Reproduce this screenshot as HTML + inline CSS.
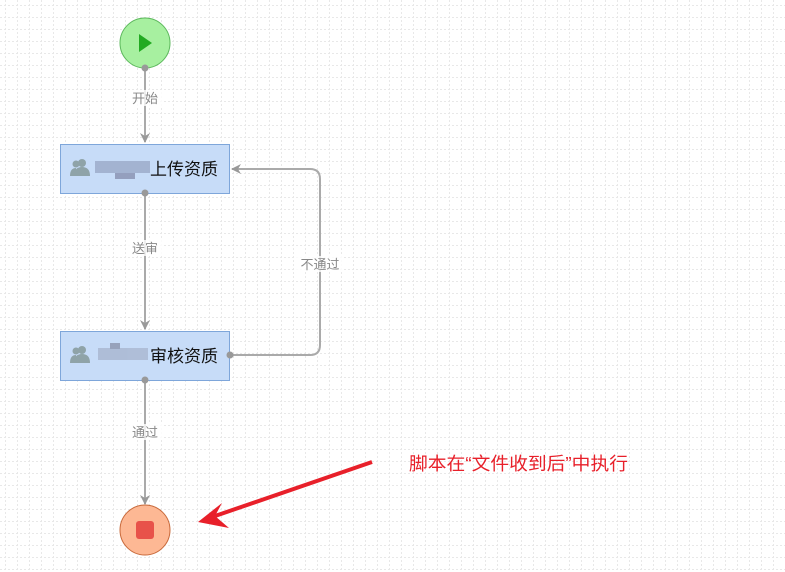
<!DOCTYPE html>
<html><head><meta charset="utf-8"><style>
html,body{margin:0;padding:0;background:#fff;}
svg{display:block;font-family:"Liberation Sans","Noto Sans CJK SC",sans-serif;}
</style></head><body>
<svg width="785" height="572" viewBox="0 0 785 572" xmlns="http://www.w3.org/2000/svg">
<defs>
<pattern id="g" width="12" height="12" patternUnits="userSpaceOnUse">
<line x1="0" y1="5.5" x2="12" y2="5.5" stroke="#e8e8e8" stroke-width="1" stroke-dasharray="2,2"/>
<line x1="5.5" y1="0" x2="5.5" y2="12" stroke="#e8e8e8" stroke-width="1" stroke-dasharray="2,2"/>
</pattern>
<marker id="a" markerWidth="10" markerHeight="10" refX="9" refY="5" orient="auto" markerUnits="userSpaceOnUse"><path d="M0,0 L10,5 L0,10 L3,5 z" fill="#999"/></marker>
</defs>
<rect width="785" height="572" fill="url(#g)"/>
<g stroke="#aaa" stroke-width="2" fill="none">
<line x1="145" y1="68" x2="145" y2="142" marker-end="url(#a)"/>
<line x1="145" y1="193" x2="145" y2="329" marker-end="url(#a)"/>
<line x1="145" y1="380" x2="145" y2="504" marker-end="url(#a)"/>
<path d="M230,355 L310,355 Q320,355 320,345 L320,179 Q320,169 310,169 L232,169" marker-end="url(#a)"/>
</g>
<g font-size="13" fill="#888" text-anchor="middle">
<rect x="128" y="90" width="34" height="16" fill="#fff" opacity="0.8"/><text x="145" y="103">开始</text>
<rect x="128" y="240" width="34" height="16" fill="#fff" opacity="0.8"/><text x="145" y="253">送审</text>
<rect x="128" y="424" width="34" height="16" fill="#fff" opacity="0.8"/><text x="145" y="437">通过</text>
<rect x="296" y="256" width="48" height="16" fill="#fff" opacity="0.8"/><text x="320" y="269">不通过</text>
</g>
<circle cx="145" cy="43" r="25" fill="#a7f0a0" stroke="#5cb85c" stroke-width="1"/>
<path d="M139,34 L152,43 L139,52 z" fill="#22aa22"/>
<rect x="60.5" y="144.5" width="169" height="49" fill="#c7dcf8" stroke="#7ea6da"/>
<rect x="60.5" y="331.5" width="169" height="49" fill="#c7dcf8" stroke="#7ea6da"/>
<g fill="#999"><circle cx="145" cy="68" r="3.5"/><circle cx="145" cy="193" r="3.5"/><circle cx="145" cy="380" r="3.5"/><circle cx="230" cy="355" r="3.5"/></g>
<g fill="#8fa3a8">
<circle cx="82" cy="163" r="4"/><path d="M74,176 Q74,167 82,167 Q90,167 90,176 z"/>
<circle cx="76" cy="164" r="3.5"/><path d="M70,176 Q70,168 76,168 L76,176 z"/>
<circle cx="82" cy="350" r="4"/><path d="M74,363 Q74,354 82,354 Q90,354 90,363 z"/>
<circle cx="76" cy="351" r="3.5"/><path d="M70,363 Q70,355 76,355 L76,363 z"/>
</g>
<g opacity="0.8">
<rect x="95" y="161" width="55" height="12" fill="#9ba9c8"/><rect x="115" y="173" width="20" height="6" fill="#8890b0"/>
<rect x="98" y="348" width="50" height="12" fill="#a9b6cf"/><rect x="110" y="343" width="10" height="6" fill="#8c94ad"/>
</g>
<g font-size="17" fill="#111">
<text x="150" y="175" textLength="68">上传资质</text>
<text x="150" y="362" textLength="68">审核资质</text>
</g>
<circle cx="145" cy="530" r="25" fill="#fdb894" stroke="#c8693a" stroke-width="1"/>
<rect x="136" y="521" width="18" height="18" rx="3" fill="#e8524a"/>
<line x1="372" y1="462" x2="215" y2="516" stroke="#e8202a" stroke-width="4"/>
<path d="M198,522 L222,503 L215,516 L229,528 z" fill="#e8202a"/>
<text x="409" y="470" font-size="18" fill="#e8202a" textLength="219" lengthAdjust="spacingAndGlyphs">脚本在“文件收到后”中执行</text>
</svg>
</body></html>
